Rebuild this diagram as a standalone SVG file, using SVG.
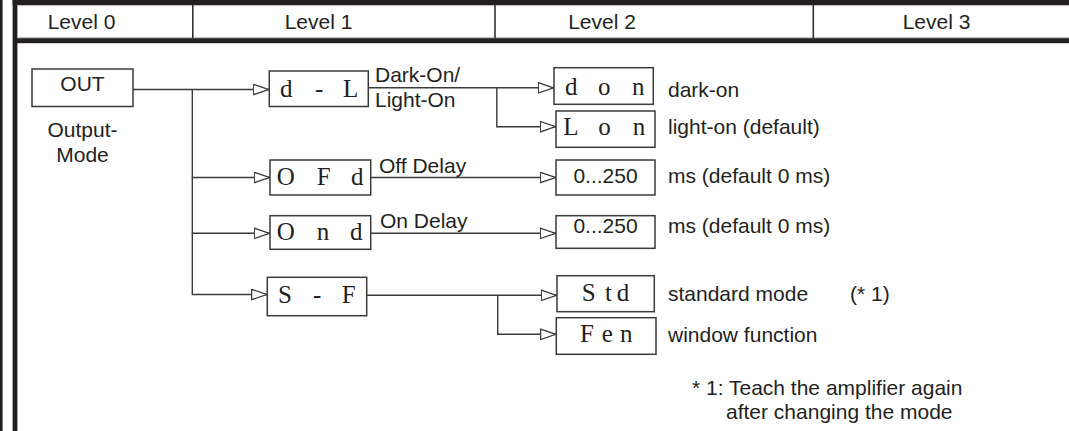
<svg xmlns="http://www.w3.org/2000/svg" width="1069" height="431" viewBox="0 0 1069 431">
<defs>
<style>
.bg{fill:#ffffff}
.bar{fill:#231f20}
.thin{stroke:#b8b8b8;stroke-width:1;fill:none}
.div{stroke:#333;stroke-width:1.6;fill:none}
.box{fill:#fff;stroke:#3a3a3a;stroke-width:1.5}
.con{fill:none;stroke:#3a3a3a;stroke-width:1.4}
.sans{font-family:"Liberation Sans",Arial,sans-serif;font-size:21px;fill:#231f20}
.mid{text-anchor:middle}
.seg{font-family:"Liberation Serif","Times New Roman",serif;font-size:25px;fill:#231f20}
</style>
<marker id="arr" viewBox="0 0 17 12" refX="16.5" refY="6" markerWidth="17" markerHeight="12" markerUnits="userSpaceOnUse" orient="auto">
<path d="M0.8,0.8 L16,6 L0.8,11.2 Z" fill="#fff" stroke="#3a3a3a" stroke-width="1.3"/>
</marker>
</defs>
<rect class="bg" x="0" y="0" width="1069" height="431"/>
<g id="frame">
<rect class="bar" x="0" y="0" width="2.6" height="431"/>
<rect class="bar" x="12.6" y="0" width="4.8" height="431"/>
<rect class="bar" x="12.6" y="0" width="1056.4" height="5"/>
<rect class="bar" x="17" y="38.2" width="1052" height="5"/>
<line class="thin" x1="17" y1="5.6" x2="1069" y2="5.6"/>
<line class="thin" x1="17" y1="37.4" x2="1069" y2="37.4"/>
<line class="div" x1="192.8" y1="5" x2="192.8" y2="38.2"/>
<line class="div" x1="495" y1="5" x2="495" y2="38.2"/>
<line class="div" x1="813.3" y1="5" x2="813.3" y2="38.2"/>
<text class="sans mid" x="81.5" y="29.3">Level 0</text>
<text class="sans mid" x="318.5" y="29.3">Level 1</text>
<text class="sans mid" x="602" y="29.3">Level 2</text>
<text class="sans mid" x="936.5" y="29.3">Level 3</text>
</g>
<g id="connectors">
<path class="con" d="M133 89.5 H269" marker-end="url(#arr)"/>
<path class="con" d="M192.3 89.5 V177.5 H270" marker-end="url(#arr)"/>
<path class="con" d="M192.3 177.5 V233.3 H270" marker-end="url(#arr)"/>
<path class="con" d="M192.3 233.3 V294.5 H267.3" marker-end="url(#arr)"/>
<path class="con" d="M368.3 87.8 H554" marker-end="url(#arr)"/>
<path class="con" d="M496.8 87.8 V126.7 H556" marker-end="url(#arr)"/>
<path class="con" d="M370.7 177.5 H556" marker-end="url(#arr)"/>
<path class="con" d="M370.7 233.3 H556" marker-end="url(#arr)"/>
<path class="con" d="M366.7 295.3 H557" marker-end="url(#arr)"/>
<path class="con" d="M497.7 295.3 V334.3 H556.3" marker-end="url(#arr)"/>
</g>
<g id="node-out">
<rect class="box" x="32" y="69" width="101" height="37.5"/>
<text class="sans mid" x="82.5" y="91">OUT</text>
<text class="sans mid" x="82.5" y="136.5">Output-</text>
<text class="sans mid" x="82.5" y="161.5">Mode</text>
</g>
<g id="node-dl">
<rect class="box" x="269.3" y="71" width="99" height="35.5"/>
<text class="seg" x="280 300 315 330 343" y="96.5">d - L</text>
<text class="sans" x="375" y="81.5">Dark-On/</text>
<text class="sans" x="375" y="106.5">Light-On</text>
</g>
<g id="node-ofd">
<rect class="box" x="270" y="160" width="100.7" height="35"/>
<text class="seg" x="276.7 300 316.7 335 351" y="185">O F d</text>
<text class="sans" x="379" y="173">Off Delay</text>
</g>
<g id="node-ond">
<rect class="box" x="270" y="215.7" width="100.7" height="33.6"/>
<text class="seg" x="276.7 300 316.7 335 350" y="240">O n d</text>
<text class="sans" x="380" y="228">On Delay</text>
</g>
<g id="node-sf">
<rect class="box" x="267.3" y="277.3" width="99.4" height="38.4"/>
<text class="seg" x="278 300 313 330 341.7" y="302.7">S - F</text>
</g>
<g id="node-don">
<rect class="box" x="554" y="67.7" width="99.3" height="36.6"/>
<text class="seg" x="565 585 598 620 632" y="95">d o n</text>
<text class="sans" x="668" y="96.5">dark-on</text>
</g>
<g id="node-lon">
<rect class="box" x="556" y="111" width="99" height="36.3"/>
<text class="seg" x="563.3 585 598.3 620 632.7" y="135">L o n</text>
<text class="sans" x="668" y="134">light-on (default)</text>
</g>
<g id="node-offval">
<rect class="box" x="556" y="160" width="99" height="35"/>
<text class="sans mid" x="605.5" y="183.3">0...250</text>
<text class="sans" x="668" y="183.3">ms (default 0 ms)</text>
</g>
<g id="node-onval">
<rect class="box" x="556" y="215.7" width="99" height="32.6"/>
<text class="sans mid" x="605.5" y="233.3">0...250</text>
<text class="sans" x="668" y="233.3">ms (default 0 ms)</text>
</g>
<g id="node-std">
<rect class="box" x="557" y="275.7" width="97.3" height="36"/>
<text class="seg" x="581.7 598 605 612 616.7" y="300.7">S t d</text>
<text class="sans" x="668" y="300.5">standard mode</text>
<text class="sans" x="850" y="300.5">(* 1)</text>
</g>
<g id="node-fen">
<rect class="box" x="556.3" y="317.7" width="99.7" height="36.6"/>
<text class="seg" x="580 595 601.7 614 620" y="342.3">F e n</text>
<text class="sans" x="668" y="341.7">window function</text>
</g>
<g id="footnote">
<text class="sans" x="692" y="395">* 1: Teach the amplifier again</text>
<text class="sans" x="726" y="418.5">after changing the mode</text>
</g>
</svg>
